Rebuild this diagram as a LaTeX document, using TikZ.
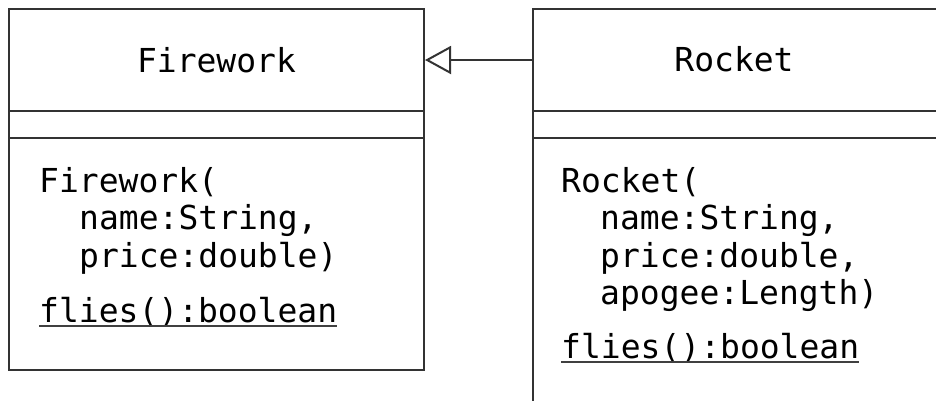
\documentclass[tikz,border=0pt]{standalone}
\usepackage{fontspec}
\setmonofont{DejaVu Sans Mono}
\usetikzlibrary{arrows.meta}
\begin{document}
\begin{tikzpicture}[x=1pt,y=-1pt,
  compart/.style={draw=black!80, line width=2pt, anchor=north west, inner sep=0pt},
  txt/.style={font=\ttfamily\fontsize{33}{37}\selectfont, inner sep=0pt, text=black},
  codeline/.style={txt, anchor=base west},
  ulrule/.style={draw=black!75, line width=1.8pt},
  generalization/.style={draw=black!80, line width=2pt, -{Triangle[open, length=26pt, width=28pt, line width=2pt]}}]
\useasboundingbox (0,0) rectangle (936,400);
\clip (0,0) rectangle (936,400);
\fill[white] (0,0) rectangle (936,400);
% Firework class
\node[compart, minimum width=415pt, minimum height=102pt] (fwhead) at (8,8) {};
\node[compart, minimum width=415pt, minimum height=27pt] (fwattr) at (8,110) {};
\node[compart, minimum width=415pt, minimum height=232pt] (fwops) at (8,137) {};
% Rocket class (cut off at the right and bottom)
\node[compart, minimum width=410pt, minimum height=102pt] (rkhead) at (532,8) {};
\node[compart, minimum width=410pt, minimum height=27pt] (rkattr) at (532,110) {};
\node[compart, minimum width=410pt, minimum height=300pt] (rkops) at (532,137) {};
% names
\node[txt] (fwname) at (fwhead.center) {Firework};
\node[txt] (rkname) at (734,59) {Rocket};
% Firework operations
\node[codeline] (fwc1) at (39,192) {Firework(};
\node[codeline] (fwc2) at (79,229) {name:String,};
\node[codeline] (fwc3) at (79,267) {price:double)};
\node[codeline] (fwop) at (39,322) {flies():boolean};
\draw[ulrule] ([yshift=-4pt]fwop.base west) -- ([yshift=-4pt]fwop.base east);
% Rocket operations
\node[codeline] (rkc1) at (561,192) {Rocket(};
\node[codeline] (rkc2) at (600,229) {name:String,};
\node[codeline] (rkc3) at (600,267) {price:double,};
\node[codeline] (rkc4) at (600,304) {apogee:Length)};
\node[codeline] (rkop) at (561,358) {flies():boolean};
\draw[ulrule] ([yshift=-4pt]rkop.base west) -- ([yshift=-4pt]rkop.base east);
% generalization
\draw[generalization] (rkhead.west) -- (fwhead.east);
\end{tikzpicture}
\end{document}
